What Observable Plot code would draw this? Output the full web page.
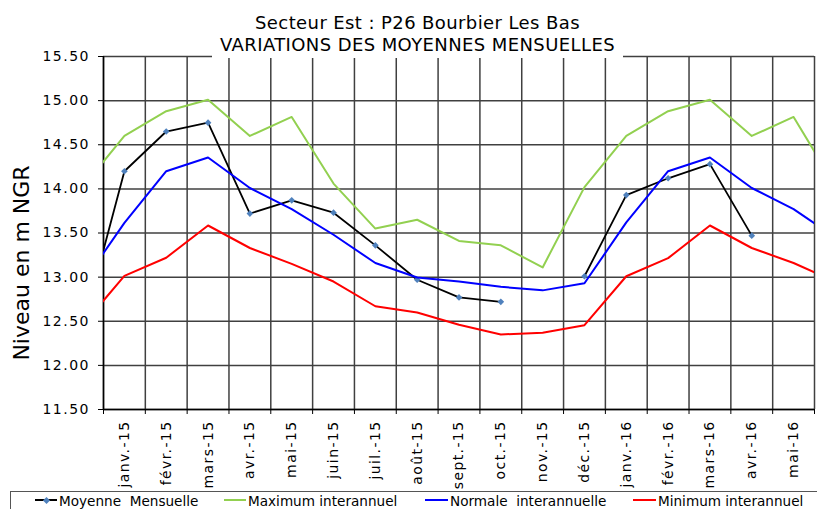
<!DOCTYPE html>
<html>
<head>
<meta charset="utf-8">
<script src="https://cdn.jsdelivr.net/npm/d3@7"></script>
<script src="https://cdn.jsdelivr.net/npm/@observablehq/plot@0.6"></script>
<style>
  body { margin: 0; background: #fff; font-family: "DejaVu Sans", Verdana, sans-serif; }
  #wrap { position: relative; width: 817px; height: 509px; overflow: hidden; background: #fff; }
  #chart { position: absolute; left: 0; top: 0; }
  #title { position: absolute; left: 212px; top: 12px; width: 411px; height: 46px; background: #fff;
           text-align: center; font-size: 18px; line-height: 21.7px; letter-spacing: 0.4px; color: #000; white-space: nowrap; }
  #legend { position: absolute; left: 10px; top: 491px; width: 840px; height: 40px; border: 1px solid #555; background: #fff; }
  .lg-text { position: absolute; top: 493px; font-size: 13.6px; line-height: 16px; white-space: pre; color: #000; }
  .lg-line { position: absolute; top: 499px; height: 2px; }
  .lg-diamond { position: absolute; width: 5px; height: 5px; background: #4F81BD; transform: rotate(45deg); }
  svg [aria-label="y-axis tick label"] text { letter-spacing: 1.5px; }
  svg [aria-label="x-axis tick label"] text { letter-spacing: 1.4px; }
</style>
</head>
<body>
<div id="wrap">
  <div id="chart"></div>
  <div id="title"></div>
  <div id="legend"></div>
</div>
<script>
// ---- data ----
const titleLines = ["Secteur Est : P26 Bourbier Les Bas", "VARIATIONS DES MOYENNES MENSUELLES"];
const yLabel = "Niveau en m NGR";
const months = ["déc.-14","janv.-15","févr.-15","mars-15","avr.-15","mai-15","juin-15","juil.-15","août-15",
                "sept.-15","oct.-15","nov.-15","déc.-15","janv.-16","févr.-16","mars-16","avr.-16","mai-16","juin-16"];
const moyenne = [12.42, 14.20, 14.65, 14.75, 13.72, 13.87, 13.73, 13.36, 12.97, 12.77, 12.72, null,
                 13.01, 13.93, 14.12, 14.28, 13.47, null, null];
const maximum = [14.02, 14.60, 14.88, 15.01, 14.60, 14.815, 14.06, 13.55, 13.65, 13.41, 13.36, 13.11,
                 14.02, 14.60, 14.88, 15.01, 14.60, 14.815, 14.03];
const normale = [12.93, 13.615, 14.20, 14.355, 14.01, 13.77, 13.48, 13.16, 12.995, 12.95, 12.89, 12.85,
                 12.93, 13.62, 14.20, 14.355, 14.01, 13.77, 13.45];
const minimum = [12.455, 13.015, 13.22, 13.585, 13.33, 13.15, 12.95, 12.67, 12.60, 12.46, 12.35, 12.37,
                 12.455, 13.01, 13.215, 13.585, 13.33, 13.16, 12.95];
const yTicks = [11.5, 12.0, 12.5, 13.0, 13.5, 14.0, 14.5, 15.0, 15.5];
const seriesNames = ["Moyenne  Mensuelle", "Maximum interannuel", "Normale  interannuelle", "Minimum interannuel"];
const seriesColors = ["#000000", "#92D050", "#0000FF", "#FF0000"];

// first visible category = janv.-15 (index 0); déc.-14 and juin-16 lie outside the frame
const rows = months.map((m, i) => ({
  x: i - 1, label: m,
  moyenne: moyenne[i], maximum: maximum[i], normale: normale[i], minimum: minimum[i]
}));
const shown = rows.filter(d => d.x >= 0 && d.x <= 16);
const centers = shown.map(d => d.x);
const boundaries = [...centers.map(c => c - 0.5), centers[centers.length - 1] + 0.5];
const labelOf = new Map(rows.map(d => [d.x, d.label]));

const chart = Plot.plot({
  width: 817, height: 509,
  marginTop: 56, marginBottom: 100, marginLeft: 103, marginRight: 3,
  style: { fontFamily: "DejaVu Sans, Verdana, sans-serif", fontSize: "14px", color: "#000", background: "transparent", overflow: "visible" },
  x: { domain: [boundaries[0], boundaries[boundaries.length - 1]] },
  y: { domain: [yTicks[0], yTicks[yTicks.length - 1]] },
  marks: [
    Plot.gridY(yTicks, { stroke: "#404040", strokeOpacity: 1, strokeWidth: 1.5 }),
    Plot.gridX(boundaries, { stroke: "#404040", strokeOpacity: 1, strokeWidth: 1.5 }),
    Plot.axisY(yTicks, { tickFormat: d => d.toFixed(2), tickSize: 5, tickPadding: 8.5, label: null, fontSize: 14 }),
    Plot.axisX(boundaries, { tickFormat: () => "", tickSize: 5, label: null }),
    Plot.axisX(centers, { tickFormat: d => labelOf.get(d), tickRotate: -90, tickSize: 0, tickPadding: 11, label: null, fontSize: 14 }),
    Plot.ruleX([boundaries[0]], { stroke: "#000", strokeWidth: 1.5 }),
    Plot.ruleY([yTicks[0]], { stroke: "#000", strokeWidth: 1.5 }),
    Plot.line(rows, { x: "x", y: "moyenne", stroke: seriesColors[0], strokeWidth: 1.8, clip: true }),
    Plot.dot(rows, { x: "x", y: "moyenne", symbol: "diamond2", r: 3, fill: "#4F81BD", stroke: "none", clip: true }),
    Plot.line(rows, { x: "x", y: "maximum", stroke: seriesColors[1], strokeWidth: 2, clip: true }),
    Plot.line(rows, { x: "x", y: "normale", stroke: seriesColors[2], strokeWidth: 2, clip: true }),
    Plot.line(rows, { x: "x", y: "minimum", stroke: seriesColors[3], strokeWidth: 2, clip: true }),
    Plot.text([yLabel], { text: d => d, frameAnchor: "left", rotate: -90, dx: -82, dy: 30, fontSize: 22,
                          textAnchor: "middle", lineAnchor: "middle", fill: "#000" })
  ]
});
document.getElementById("chart").appendChild(chart);

// title
const t = document.getElementById("title");
titleLines.forEach(s => { const d = document.createElement("div"); d.textContent = s; t.appendChild(d); });

// legend
const wrap = document.getElementById("wrap");
const lgPos = [[35, 59], [224, 248], [425, 450], [633, 658]];
seriesNames.forEach((name, i) => {
  const [lx, tx] = lgPos[i];
  const ln = document.createElement("div");
  ln.className = "lg-line";
  ln.style.left = lx + "px";
  ln.style.width = (tx - lx - 2) + "px";
  ln.style.background = seriesColors[i];
  wrap.appendChild(ln);
  if (i === 0) {
    const dm = document.createElement("div");
    dm.className = "lg-diamond";
    dm.style.left = (lx + (tx - lx - 2) / 2 - 2.5) + "px";
    dm.style.top = "497.5px";
    wrap.appendChild(dm);
  }
  const tx_ = document.createElement("div");
  tx_.className = "lg-text";
  tx_.style.left = tx + "px";
  tx_.textContent = name;
  wrap.appendChild(tx_);
});
</script>
</body>
</html>
